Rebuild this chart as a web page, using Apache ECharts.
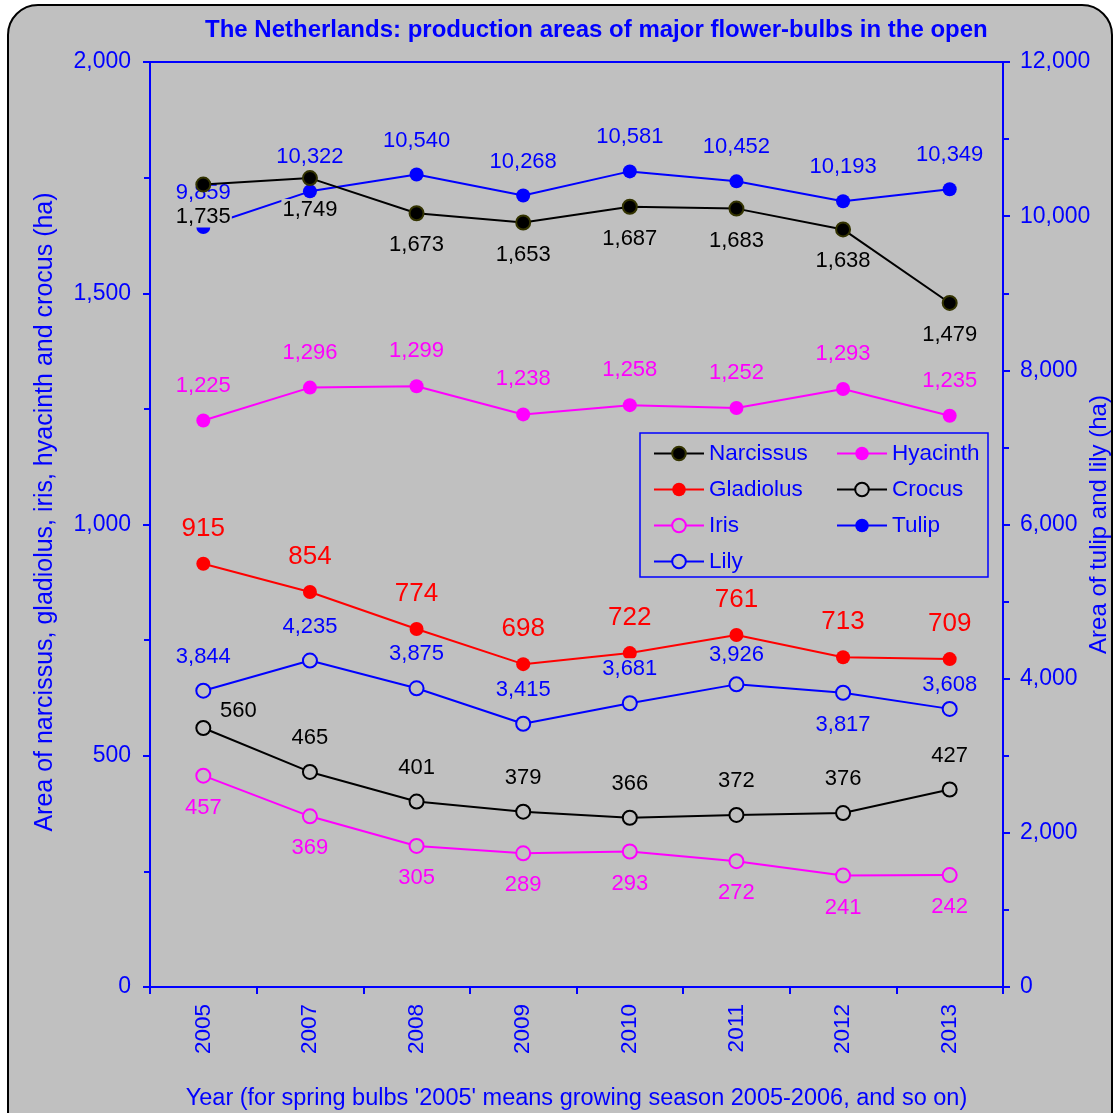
<!DOCTYPE html>
<html>
<head>
<meta charset="utf-8">
<script src="https://cdn.jsdelivr.net/npm/echarts@6/dist/echarts.min.js"></script>
<style>
  html, body { margin: 0; padding: 0; background: #ffffff; overflow: hidden; }
  #chart { width: 1115px; height: 1113px; }
</style>
</head>
<body>
<div id="chart"></div>
<script>
// Production areas (ha) of major flower-bulbs grown in the open, the Netherlands
const years     = ['2005', '2007', '2008', '2009', '2010', '2011', '2012', '2013'];
const narcissus = [1735, 1749, 1673, 1653, 1687, 1683, 1638, 1479];
const hyacinth  = [1225, 1296, 1299, 1238, 1258, 1252, 1293, 1235];
const gladiolus = [915, 854, 774, 698, 722, 761, 713, 709];
const crocus    = [560, 465, 401, 379, 366, 372, 376, 427];
const iris      = [457, 369, 305, 289, 293, 272, 241, 242];
const tulip     = [9859, 10322, 10540, 10268, 10581, 10452, 10193, 10349];
const lily      = [3844, 4235, 3875, 3415, 3681, 3926, 3817, 3608];

const FONT = '"Liberation Sans", Arial, sans-serif';
const BLUE = '#0000ff';
const BG = '#c0c0c0';

function fmt(v) {
  return String(v).replace(/\B(?=(\d{3})+(?!\d))/g, ',');
}

// Where each value label sits relative to its marker
const ABOVE = [0, -34];
const BELOW = [0, 32];
const labelPlacement = {
  Narcissus: years.map(() => BELOW),
  Hyacinth:  years.map(() => [0, -35]),
  Gladiolus: years.map(() => [0, -35]),
  Crocus:    years.map((y, i) => i === 0 ? [35, -17] : ABOVE),
  Iris:      years.map(() => BELOW),
  Tulip:     years.map(() => ABOVE),
  Lily:      years.map((y, i) => i === 6 ? BELOW : i === 7 ? [0, -24] : i === 5 ? [0, -29] : ABOVE)
};

function lineSeries(name, values, axis, opts) {
  const offsets = labelPlacement[name];
  return {
    name: name,
    type: 'line',
    yAxisIndex: axis,
    z: opts.z || 3,
    symbol: 'circle',
    symbolSize: 14,
    lineStyle: { color: opts.line, width: 2 },
    itemStyle: { color: opts.fill, borderColor: opts.border, borderWidth: opts.borderWidth },
    label: {
      show: true,
      position: 'inside',
      color: opts.text,
      fontFamily: FONT,
      fontSize: opts.fontSize || 22,
      backgroundColor: BG,
      padding: [0, 1],
      formatter: p => fmt(p.value)
    },
    emphasis: { disabled: true },
    data: values.map((v, i) => ({ value: v, label: { offset: offsets[i] } }))
  };
}

const series = [
  lineSeries('Narcissus', narcissus, 0, { line: '#000000', fill: '#000000', border: '#333300', borderWidth: 2, text: '#000000' }),
  lineSeries('Hyacinth', hyacinth, 0, { line: '#ff00ff', fill: '#ff00ff', border: '#ff00ff', borderWidth: 0, text: '#ff00ff' }),
  lineSeries('Gladiolus', gladiolus, 0, { line: '#ff0000', fill: '#ff0000', border: '#ff0000', borderWidth: 0, text: '#ff0000', fontSize: 26 }),
  lineSeries('Crocus', crocus, 0, { line: '#000000', fill: BG, border: '#000000', borderWidth: 2, text: '#000000' }),
  lineSeries('Iris', iris, 0, { line: '#ff00ff', fill: BG, border: '#ff00ff', borderWidth: 2, text: '#ff00ff' }),
  lineSeries('Tulip', tulip, 1, { line: BLUE, fill: BLUE, border: BLUE, borderWidth: 0, text: BLUE, z: 2 }),
  lineSeries('Lily', lily, 1, { line: BLUE, fill: BG, border: BLUE, borderWidth: 2, text: BLUE })
];

const axisLine = { show: true, lineStyle: { color: BLUE, width: 2 } };
const axisTick = { show: true, inside: false, length: 7, lineStyle: { color: BLUE, width: 2 } };
const minorTick = { show: true, splitNumber: 2, length: 6, lineStyle: { color: BLUE, width: 2 } };

const legendCommon = {
  orient: 'vertical',
  itemWidth: 50,
  itemHeight: 17,
  itemGap: 13,
  padding: 0,
  selectedMode: false,
  textStyle: { color: BLUE, fontFamily: FONT, fontSize: 22.5, lineHeight: 22 }
};

const option = {
  animation: false,
  backgroundColor: '#ffffff',
  textStyle: { fontFamily: FONT },
  graphic: [
    {
      type: 'rect', z: -10, silent: true,
      shape: { x: 8, y: 5, width: 1104, height: 1160, r: 30 },
      style: { fill: BG, stroke: '#000000', lineWidth: 2 }
    },
    {
      type: 'rect', z: -5, silent: true,
      shape: { x: 640, y: 433, width: 348, height: 144 },
      style: { fill: BG, stroke: BLUE, lineWidth: 1.5 }
    }
  ],
  title: {
    text: 'The Netherlands: production areas of major flower-bulbs in the open',
    left: 200,
    top: 13,
    textStyle: { color: BLUE, fontFamily: FONT, fontSize: 24, fontWeight: 'bold' }
  },
  legend: [
    Object.assign({}, legendCommon, { left: 653, top: 442, data: ['Narcissus', 'Gladiolus', 'Iris', 'Lily'] }),
    Object.assign({}, legendCommon, { left: 836, top: 442, data: ['Hyacinth', 'Crocus', 'Tulip'] })
  ],
  grid: {
    left: 150, right: 112, top: 62, bottom: 126,
    outerBoundsMode: 'none',
    containLabel: false,
    show: true, borderColor: BLUE, borderWidth: 2, backgroundColor: 'transparent'
  },
  xAxis: {
    type: 'category',
    data: years,
    boundaryGap: true,
    axisLine: axisLine,
    axisTick: axisTick,
    splitLine: { show: false },
    axisLabel: { color: BLUE, fontFamily: FONT, fontSize: 22.5, rotate: 90, margin: 17 },
    name: "Year (for spring bulbs '2005' means growing season 2005-2006, and so on)",
    nameLocation: 'middle',
    nameMoveOverlap: false,
    nameGap: 100,
    nameTextStyle: { color: BLUE, fontFamily: FONT, fontSize: 23.5 }
  },
  yAxis: [
    {
      type: 'value',
      position: 'left',
      min: 0, max: 2000, interval: 500,
      axisLine: axisLine,
      axisTick: axisTick,
      minorTick: minorTick,
      splitLine: { show: false },
      axisLabel: { color: BLUE, fontFamily: FONT, fontSize: 23, margin: 19, formatter: v => fmt(v) },
      name: 'Area of narcissus, gladiolus, iris, hyacinth and crocus (ha)',
      nameLocation: 'middle',
      nameMoveOverlap: false,
      nameRotate: 90,
      nameGap: 92,
      nameTextStyle: { color: BLUE, fontFamily: FONT, fontSize: 25, padding: [0, 0, 0, 25] }
    },
    {
      type: 'value',
      position: 'right',
      min: 0, max: 12000, interval: 2000,
      axisLine: axisLine,
      axisTick: axisTick,
      minorTick: minorTick,
      splitLine: { show: false },
      axisLabel: { color: BLUE, fontFamily: FONT, fontSize: 23, margin: 17, formatter: v => fmt(v) },
      name: 'Area of tulip and lily (ha)',
      nameLocation: 'middle',
      nameMoveOverlap: false,
      nameRotate: 90,
      nameGap: 84,
      nameTextStyle: { color: BLUE, fontFamily: FONT, fontSize: 24 }
    }
  ],
  series: series
};

const chart = echarts.init(document.getElementById('chart'), null, { renderer: 'canvas' });
chart.setOption(option);
</script>
</body>
</html>
